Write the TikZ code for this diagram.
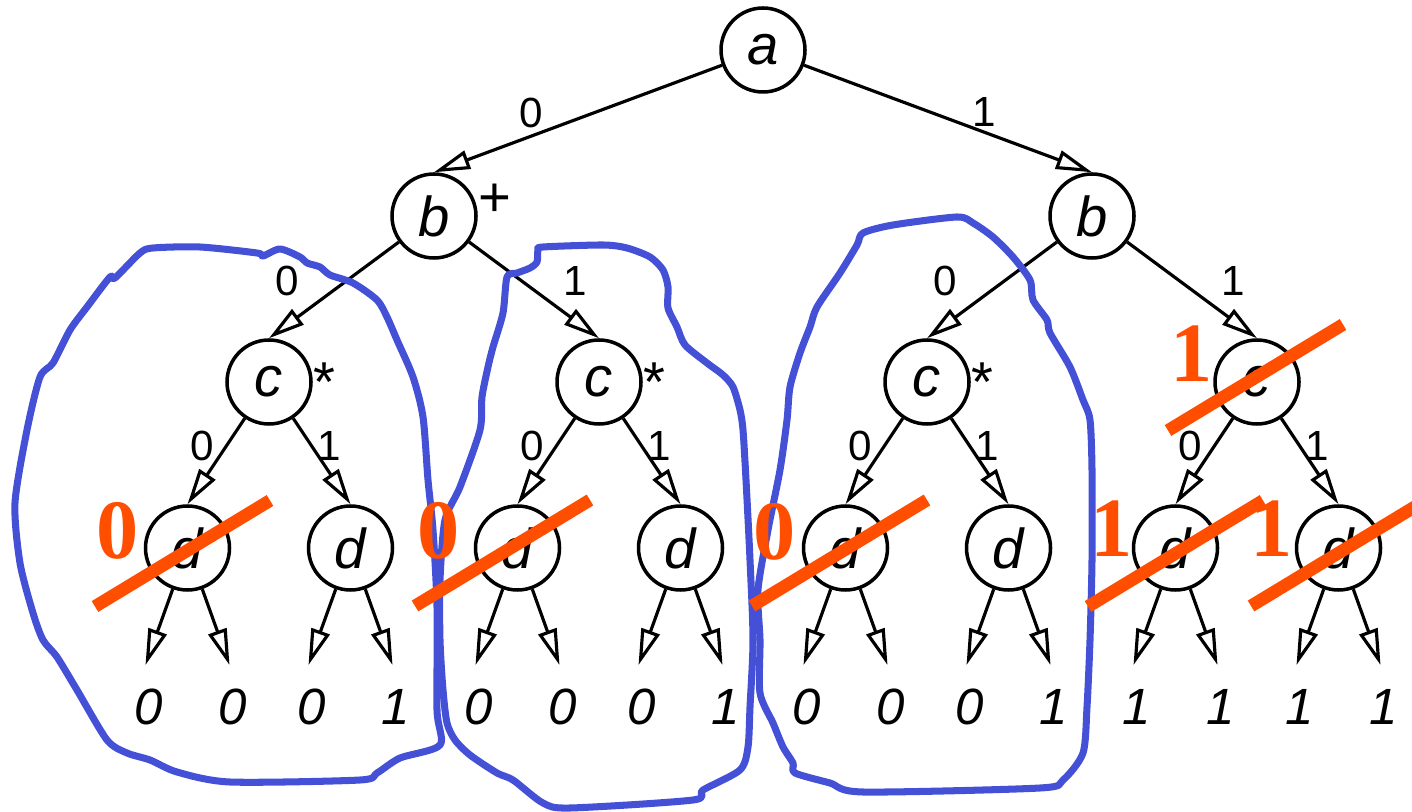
\documentclass[tikz,border=0pt]{standalone}
\usepackage{fontspec}
\setmainfont{Liberation Sans}
\newfontfamily\markfont{Liberation Serif}
\usetikzlibrary{arrows.meta}
\definecolor{loopblue}{RGB}{68,80,214}
\definecolor{markorange}{RGB}{255,78,0}

\begin{document}
\begin{tikzpicture}[
    vert/.style={circle, draw=black, line width=1pt, minimum size=8.4mm, inner sep=0pt,
        font=\fontsize{16}{16}\selectfont\itshape},
    lbl/.style={inner sep=0pt, pos=.5, font=\fontsize{12}{12}\selectfont},
    val/.style={inner sep=0pt, font=\fontsize{14.5}{14.5}\selectfont\itshape},
    sup/.style={inner sep=0pt, font=\fontsize{16}{16}\selectfont},
    lasso/.style={draw=loopblue, line width=2pt, line join=round},
    strike/.style={draw=markorange, line width=3.6pt},
    tag/.style={text=markorange, inner sep=0pt, font=\fontsize{24}{24}\selectfont\markfont\bfseries},
    >={Triangle[open, length=3.6mm, width=1.9mm]},
    edge from parent/.style={draw, ->, line width=.9pt},
    child anchor=north,
    level distance=1.66cm,
    level 1/.style={sibling distance=6.58cm},
    level 2/.style={sibling distance=3.3cm},
    level 3/.style={sibling distance=1.63cm},
    level 4/.style={sibling distance=.84cm, level distance=1.17cm}
]
\useasboundingbox (0,0) rectangle (14.12,-8.12);

% the decision tree
\node (a) [vert] at (7.63,-.50) {a}
    child { node (b1) [vert, label={[sup, yshift=1.4mm]2:+}] {b}
        child { node (c1) [vert, label={[sup]0:*}] {c}
            child { node (d1) [vert] {d}
                child { coordinate (e1) }
                child { coordinate (e2) }
                edge from parent node[lbl, xshift=-1.4mm, yshift=1.5mm] {0}
            }
            child { node (d2) [vert] {d}
                child { coordinate (e3) }
                child { coordinate (e4) }
                edge from parent node[lbl, xshift=.7mm, yshift=1.5mm] {1}
            }
            edge from parent node[lbl, xshift=-4.7mm, yshift=.9mm] {0}
        }
        child { node (c2) [vert, label={[sup]0:*}] {c}
            child { node (d3) [vert] {d}
                child { coordinate (e5) }
                child { coordinate (e6) }
                edge from parent node[lbl, xshift=-1.4mm, yshift=1.5mm] {0}
            }
            child { node (d4) [vert] {d}
                child { coordinate (e7) }
                child { coordinate (e8) }
                edge from parent node[lbl, xshift=.7mm, yshift=1.5mm] {1}
            }
            edge from parent node[lbl, xshift=4.15mm, yshift=.9mm] {1}
        }
        edge from parent node[lbl, xshift=-4.7mm, yshift=.6mm] {0}
    }
    child { node (b2) [vert] {b}
        child { node (c3) [vert, label={[sup]0:*}] {c}
            child { node (d5) [vert] {d}
                child { coordinate (e9) }
                child { coordinate (e10) }
                edge from parent node[lbl, xshift=-1.4mm, yshift=1.5mm] {0}
            }
            child { node (d6) [vert] {d}
                child { coordinate (e11) }
                child { coordinate (e12) }
                edge from parent node[lbl, xshift=.7mm, yshift=1.5mm] {1}
            }
            edge from parent node[lbl, xshift=-4.7mm, yshift=.9mm] {0}
        }
        child { node (c4) [vert] {c}
            child { node (d7) [vert] {d}
                child { coordinate (e13) }
                child { coordinate (e14) }
                edge from parent node[lbl, xshift=-1.4mm, yshift=1.5mm] {0}
            }
            child { node (d8) [vert] {d}
                child { coordinate (e15) }
                child { coordinate (e16) }
                edge from parent node[lbl, xshift=.7mm, yshift=1.5mm] {1}
            }
            edge from parent node[lbl, xshift=4.15mm, yshift=.9mm] {1}
        }
        edge from parent node[lbl, xshift=3.6mm, yshift=.7mm] {1}
    };

% leaf values
\foreach \v [count=\i] in {0,0,0,1,0,0,0,1,0,0,0,1,1,1,1,1}
    \node[val] (v\i) at ([shift={(.03,-.42)}]e\i) {\v};

% hand drawn groups
\draw[lasso] plot[smooth cycle, tension=.45] coordinates {
    (0.43,-6.40) (0.33,-6.13) (0.20,-5.63) (0.15,-5.03) (0.27,-4.30) (0.40,-3.77)
    (0.53,-3.63) (0.70,-3.30) (0.87,-3.07) (1.10,-2.77) (1.15,-2.78) (1.40,-2.53)
    (1.53,-2.48) (2.00,-2.47) (2.57,-2.53) (2.63,-2.56) (2.80,-2.49) (3.00,-2.57)
    (3.07,-2.63) (3.20,-2.67) (3.30,-2.75) (3.53,-2.83) (3.77,-3.00) (3.87,-3.17)
    (3.97,-3.40) (4.13,-3.77) (4.23,-4.17) (4.28,-4.80) (4.33,-5.30) (4.37,-6.07)
    (4.37,-7.10) (4.40,-7.45) (4.00,-7.58) (3.77,-7.73) (3.60,-7.80) (2.30,-7.82)
    (1.77,-7.72) (1.50,-7.60) (1.27,-7.53) (1.07,-7.40) (0.77,-6.90) (0.57,-6.57)};
\draw[lasso] plot[smooth cycle, tension=.45] coordinates {
    (5.07,-2.77) (5.17,-2.73) (5.30,-2.68) (5.37,-2.62) (5.38,-2.50) (5.43,-2.47)
    (6.03,-2.45) (6.27,-2.48) (6.50,-2.57) (6.63,-2.70) (6.68,-2.87) (6.68,-3.08)
    (6.77,-3.27) (6.85,-3.45) (7.07,-3.63) (7.23,-3.75) (7.33,-3.87) (7.40,-4.10)
    (7.43,-4.30) (7.46,-4.80) (7.50,-5.60) (7.53,-6.40) (7.50,-7.07) (7.48,-7.47)
    (7.40,-7.70) (7.03,-7.90) (6.93,-8.00) (5.70,-8.08) (5.43,-8.03) (5.13,-7.80)
    (4.97,-7.73) (4.70,-7.55) (4.55,-7.40) (4.47,-7.23) (4.43,-6.90) (4.40,-6.40)
    (4.40,-5.80) (4.45,-5.20) (4.60,-4.87) (4.80,-4.30) (4.82,-3.97) (4.88,-3.67)
    (4.93,-3.47) (5.03,-3.13)};
\draw[lasso] plot[smooth cycle, tension=.45] coordinates {
    (8.57,-2.45) (8.63,-2.33) (8.93,-2.25) (9.57,-2.17) (9.73,-2.23) (9.93,-2.37)
    (10.13,-2.57) (10.30,-2.80) (10.33,-3.00) (10.47,-3.20) (10.50,-3.33) (10.70,-3.67)
    (10.83,-4.00) (10.90,-4.20) (10.92,-4.70) (10.92,-5.60) (10.90,-6.40) (10.87,-7.07)
    (10.83,-7.53) (10.63,-7.80) (10.40,-7.88) (8.63,-7.92) (8.30,-7.83) (7.95,-7.73)
    (7.93,-7.63) (7.83,-7.47) (7.73,-7.23) (7.60,-6.93) (7.60,-6.40) (7.58,-5.90)
    (7.68,-5.30) (7.80,-4.70) (7.87,-4.20) (7.90,-3.87) (8.00,-3.53) (8.10,-3.27)
    (8.17,-3.07) (8.40,-2.73)};

% pruned nodes
\foreach \n/\dx/\dy in {d1/-.05/-.055, d3/-.15/-.05, d5/-.06/-.05, d7/0/-.055, d8/0/-.05, c4/-.015/.045}
    \draw[strike] ([shift={(\dx-.875,\dy-.53)}]\n.center) -- ([shift={(\dx+.875,\dy+.53)}]\n.center);

\node[tag] (m1) at (1.18,-5.31) {0};
\node[tag] (m2) at (4.39,-5.31) {0};
\node[tag] (m3) at (7.75,-5.32) {0};
\node[tag] (m4) at (11.92,-3.54) {1};
\node[tag] (m5) at (11.12,-5.29) {1};
\node[tag] (m6) at (12.72,-5.29) {1};
\end{tikzpicture}
\end{document}
